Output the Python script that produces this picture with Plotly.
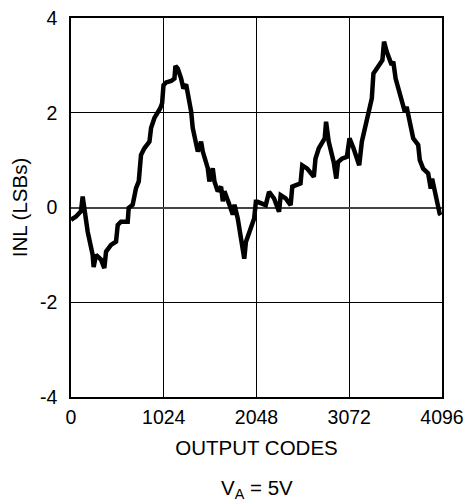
import plotly.graph_objects as go

codes = [0, 55, 110, 129, 147, 184, 239, 250, 276, 331, 368, 387, 442, 497, 516, 552, 626, 637, 681, 718,
         748, 773, 810, 866, 884, 921, 984, 1006, 1021, 1050, 1106, 1142, 1153, 1179, 1216, 1241, 1271, 1308,
         1327, 1344, 1381, 1400, 1436, 1455, 1510, 1528, 1565, 1584, 1620, 1657, 1676, 1694, 1749, 1786, 1805,
         1841, 1913, 1931, 2022, 2041, 2059, 2150, 2187, 2242, 2297, 2315, 2370, 2425, 2443, 2534, 2553, 2608,
         2681, 2699, 2736, 2801, 2816, 2845, 2900, 2929, 2948, 2991, 3046, 3075, 3119, 3182, 3211, 3266, 3321,
         3339, 3394, 3438, 3456, 3485, 3540, 3558, 3584, 3650, 3686, 3705, 3741, 3778, 3833, 3851, 3888, 3943,
         3972, 3987, 4070, 4081]
inl = [-0.26, -0.19, -0.08, 0.23, -0.01, -0.51, -1.0, -1.26, -1.0, -1.1, -1.28, -0.93, -0.79, -0.72, -0.37,
       -0.30, -0.30, -0.01, 0.06, 0.41, 0.55, 1.11, 1.25, 1.39, 1.68, 1.89, 2.09, 2.20, 2.58, 2.64, 2.67, 2.72,
       2.99, 2.93, 2.72, 2.51, 2.60, 2.27, 2.02, 1.68, 1.39, 1.18, 1.39, 1.18, 0.83, 0.55, 0.83, 0.55, 0.34,
       0.44, 0.13, 0.34, 0.06, -0.15, 0.06, -0.23, -1.08, -0.73, -0.23, 0.12, 0.12, 0.05, 0.33, 0.19, -0.09,
       0.26, 0.19, 0.05, 0.44, 0.51, 0.89, 0.82, 0.65, 1.03, 1.25, 1.46, 1.81, 1.39, 0.96, 0.61, 0.96, 1.03,
       1.07, 1.46, 1.25, 0.89, 1.39, 1.81, 2.30, 2.83, 3.01, 3.11, 3.50, 3.29, 3.01, 3.08, 2.72, 2.30, 2.02,
       2.13, 1.77, 1.46, 1.32, 1.00, 0.82, 0.72, 0.40, 0.61, -0.13, -0.16]

x_ticks = [0, 1024, 2048, 3072, 4096]
y_ticks = [-4, -2, 0, 2, 4]

FONT = "Liberation Sans"
TICK_FS = 19.5
TITLE_FS = 20.5

W, H = 464, 494
L, R, T, B = 63, 30, 10, 105
plot_h = H - T - B

fig = go.Figure()
fig.add_trace(go.Scatter(x=codes, y=inl, mode="lines",
                         line=dict(color="black", width=4.5), showlegend=False, hoverinfo="skip"))

fig.update_layout(
    width=W, height=H,
    margin=dict(l=L, r=R, t=T, b=B, autoexpand=False),
    paper_bgcolor="white", plot_bgcolor="white",
    font=dict(family=FONT, size=TICK_FS, color="black"),
    xaxis=dict(range=[0, 4096], tickvals=x_ticks, ticktext=[str(v) for v in x_ticks],
               tickfont=dict(family=FONT, size=TICK_FS, color="black"),
               ticklabeloverflow="allow",
               showgrid=True, gridcolor="black", gridwidth=1, zeroline=False,
               showline=True, linecolor="black", linewidth=1.5, mirror=True,
               ticks="", ticklabelstandoff=2,
               title=dict(text="OUTPUT CODES", standoff=13, font=dict(family=FONT, size=TITLE_FS))),
    yaxis=dict(range=[-4, 4], tickvals=y_ticks, ticktext=[str(v) for v in y_ticks],
               tickfont=dict(family=FONT, size=TICK_FS, color="black"),
               ticklabeloverflow="allow",
               showgrid=True, gridcolor="black", gridwidth=1,
               zeroline=True, zerolinecolor="#444444", zerolinewidth=1.5,
               showline=True, linecolor="black", linewidth=1.5, mirror=True,
               ticks="", ticklabelstandoff=8,
               title=dict(text="INL (LSBs)", standoff=9, font=dict(family=FONT, size=TITLE_FS))),
    annotations=[dict(text="V<sub>A</sub> = 5V", x=0.5, xref="paper",
                      y=-(481 - (H - B)) / plot_h, yref="paper", yanchor="middle",
                      showarrow=False, font=dict(size=TITLE_FS, family=FONT))],
)

fig.write_html("out.html")
